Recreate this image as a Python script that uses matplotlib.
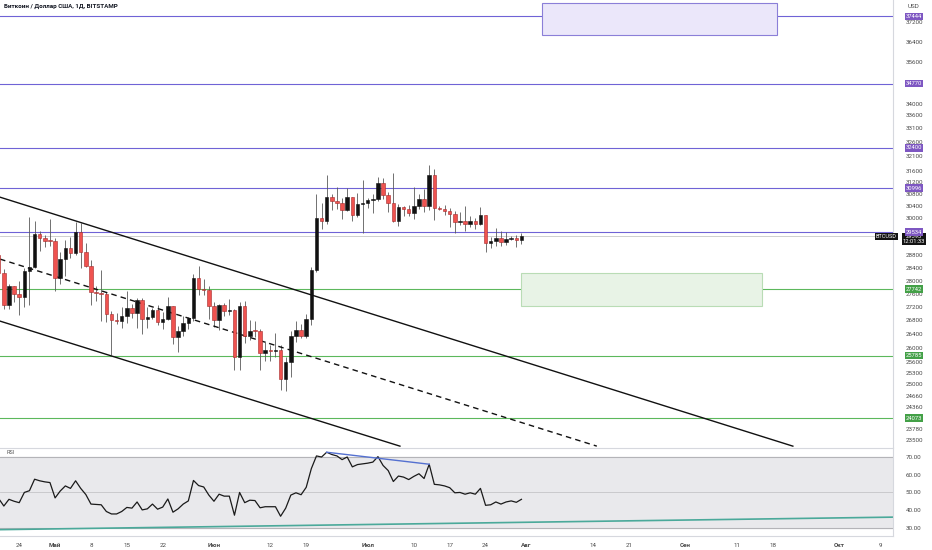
import numpy as np
import pandas as pd
import matplotlib
matplotlib.use("Agg")
import matplotlib.pyplot as plt
import matplotlib.dates as mdates
from matplotlib.ticker import NullLocator, NullFormatter

plt.rcParams['font.family'] = ['Roboto', 'DejaVu Sans']

# --- daily candles BTCUSD (Bitstamp), 20 Apr .. 31 Jul 2023 ---
dates = pd.date_range("2023-04-20", "2023-07-31", freq="D")

opens = [28800, 28240, 27270, 27820, 27590, 27510, 28300, 28420, 29470, 29330, 29240,
         29230, 28070, 28680, 29030, 28850, 29530, 28900, 28450, 27660, 27620,
         27600, 26980, 26800, 26780, 26920, 27170, 27030, 27400, 26830, 26890,
         27120, 26750, 26850, 27230, 26330, 26480, 26720, 26870, 28080, 27750, 27700,
         27220, 26820, 27250, 27070, 27120, 25740, 27240, 26350, 26500, 26480,
         25850, 25930, 25900, 25930, 25130, 25590, 26340, 26510, 26340, 26850,
         28330, 30000, 29890, 30690, 30550, 30480, 30270, 30690, 30080, 30450,
         30480, 30590, 30620, 31160, 30770, 30510, 29900, 30350, 30280, 30170,
         30410, 30620, 30380, 31450, 30320, 30290, 30230, 30140, 29860, 29910,
         29800, 29910, 29800, 30080, 29180, 29230, 29350, 29210, 29320, 29350, 29280]

highs = [29080, 28360, 27880, 27820, 28000, 28390, 30020, 29880, 29570, 29450, 29960,
         29330, 28880, 29270, 29370, 29860, 29840, 29170, 28650, 27830, 28330,
         27650, 27080, 27030, 27190, 27670, 27280, 27480, 27480, 27190, 27160,
         27270, 27050, 27490, 27240, 26630, 26930, 26890, 28190, 28450, 28040, 27840,
         27350, 27300, 27330, 27450, 27130, 27360, 27380, 26810, 26790, 26540,
         26200, 26090, 26430, 26080, 25750, 26480, 26780, 26690, 26980, 28420,
         30800, 30500, 31430, 30800, 31050, 30660, 31010, 30710, 30830, 31280,
         30660, 30790, 31390, 31330, 30880, 31500, 30450, 30380, 30440, 31040,
         30800, 30980, 31800, 31640, 30390, 30440, 30330, 30240, 30190, 30410,
         30050, 30010, 30350, 30100, 29380, 29680, 29560, 29530, 29420, 29450, 29500]

lows = [28020, 27130, 27130, 27350, 26960, 27210, 27250, 28380, 28920, 29060, 29090,
        27680, 27880, 28130, 28690, 28810, 28390, 28420, 27270, 27370, 26770,
        26750, 25810, 26700, 26590, 26730, 26870, 26580, 26400, 26570, 26830,
        26660, 26550, 26810, 26100, 25880, 26340, 26560, 26780, 27560, 27560, 26840,
        26620, 26520, 26930, 26960, 25390, 25380, 26130, 26220, 26330, 25380,
        25640, 25640, 25730, 24830, 24790, 25180, 26160, 26300, 26280, 26670,
        28280, 29620, 29810, 30270, 30290, 29950, 30230, 29900, 30040, 29500,
        30330, 30170, 30560, 30640, 30200, 29850, 29720, 30050, 30070, 29950,
        30280, 30210, 30260, 29940, 30250, 30080, 29690, 29520, 29780, 29570,
        29710, 29640, 29750, 28880, 29030, 29090, 29080, 29120, 29270, 29040, 29150]

closes = [28240, 27270, 27820, 27590, 27510, 28300, 28420, 29470, 29330, 29240, 29230,
          28070, 28680, 29030, 28850, 29530, 28900, 28450, 27660, 27620, 27600,
          26980, 26800, 26780, 26920, 27170, 27030, 27400, 26830, 26890, 27120,
          26750, 26850, 27230, 26330, 26480, 26720, 26870, 28080, 27750, 27700, 27220,
          26820, 27250, 27070, 27120, 25740, 27240, 26350, 26500, 26480, 25850,
          25930, 25900, 25930, 25130, 25590, 26340, 26510, 26340, 26850, 28330,
          30000, 29890, 30690, 30550, 30480, 30270, 30690, 30080, 30450, 30480,
          30590, 30620, 31160, 30770, 30510, 29900, 30350, 30280, 30170, 30410,
          30620, 30380, 31450, 30320, 30290, 30230, 30140, 29860, 29910, 29800,
          29910, 29800, 30080, 29180, 29230, 29350, 29210, 29320, 29350, 29280, 29393]

rsi = [46.4, 42.2, 46.0, 44.9, 44.1, 49.9, 50.9, 57.4, 56.5, 55.9, 55.5,
       46.8, 50.7, 53.6, 52.2, 56.5, 52.2, 48.7, 43.3, 43.1, 42.9,
       39.1, 37.7, 37.7, 39.1, 41.4, 41.0, 44.5, 40.0, 40.6, 43.3,
       40.4, 41.6, 46.2, 38.7, 40.6, 43.3, 45.1, 56.7, 53.8, 53.0, 48.4,
       44.9, 48.9, 47.8, 47.8, 37.0, 49.9, 44.1, 45.5, 45.3, 41.2,
       41.8, 41.8, 41.8, 36.4, 41.0, 48.4, 49.7, 48.6, 52.8, 63.4,
       70.6, 70.0, 72.7, 71.4, 70.6, 68.5, 70.0, 64.4, 65.7, 66.1,
       66.5, 67.1, 70.2, 65.2, 62.3, 56.1, 59.2, 58.6, 57.2, 59.0,
       60.5, 57.8, 65.9, 54.5, 54.2, 53.6, 52.6, 49.7, 49.9, 48.9,
       49.7, 48.9, 52.2, 42.6, 42.9, 44.5, 43.3, 44.5, 45.1, 44.3, 46.0]

# horizontal levels drawn on the chart
purple_levels = [37444, 34770, 32400, 30996, 29534]
green_levels = [27742, 25785, 24073]
last_price = 29393
last_time = "12:01:33"

# rectangles: (start, end, low, high)
purple_zone = ("2023-08-04 00:00", "2023-09-18 19:00", 36680, 37990)
green_zone = ("2023-07-30 22:00", "2023-09-15 22:00", 27230, 28240)

# descending channel: (start, end, price start, price end)
channel_top = ("2023-04-20 06:00", "2023-09-21 23:00", 30690, 23340)
channel_mid = ("2023-04-20 06:00", "2023-08-14 17:00", 28670, 23340)
channel_bot = ("2023-04-20 06:00", "2023-07-07 07:00", 26780, 23340)

# rsi trendlines
rsi_div = ("2023-06-23", "2023-07-13", 72.7, 65.9)
rsi_support = ("2023-04-20 06:00", "2023-10-11 12:00", 28.8, 35.9)

price_ticks = [37200, 36400, 35600, 34000, 33600, 33100, 32600, 32100, 31600, 31200,
               30800, 30400, 30000, 28800, 28400, 28000, 27600, 27200, 26800, 26400,
               26000, 25600, 25300, 25000, 24660, 24360, 23780, 23500]
rsi_ticks = [70, 60, 50, 40, 30]

date_ticks = ["2023-04-24", "2023-05-01", "2023-05-08", "2023-05-15", "2023-05-22",
              "2023-06-01", "2023-06-12", "2023-06-19", "2023-07-01", "2023-07-10",
              "2023-07-17", "2023-07-24", "2023-08-01", "2023-08-14", "2023-08-21",
              "2023-09-01", "2023-09-11", "2023-09-18", "2023-10-01", "2023-10-09"]
date_labels = ["24", "Май", "8", "15", "22", "Июн", "12", "19", "Июл", "10",
               "17", "24", "Авг", "14", "21", "Сен", "11", "18", "Окт", "9"]

PURPLE = "#7e57c2"
PURPLE_LINE = "#6f63d6"
GREEN = "#43a047"
GREEN_LINE = "#5cb85c"
SEP = "#d6d8de"

W, H = 932, 550
fig = plt.figure(figsize=(W / 100, H / 100), dpi=100)
ax = fig.add_axes([0, 1 - 447 / H, 893 / W, 447 / H])
ax_rsi = fig.add_axes([0, 1 - 536 / H, 893 / W, 88 / H])

def dn(s):
    return mdates.date2num(pd.Timestamp(s))

x = mdates.date2num(dates)
o = np.array(opens, float)
h = np.array(highs, float)
l = np.array(lows, float)
c = np.array(closes, float)
up = c >= o

# --- candles ---
ax.vlines(x, l, h, color="#5a5a5a", lw=0.6, zorder=2)
body_lo = np.minimum(o, c)
body_h = np.maximum(np.abs(c - o), body_lo * 0.0012)
ax.bar(x[up], body_h[up], bottom=body_lo[up], width=0.68, color="#111111",
       edgecolor="#111111", linewidth=0.4, zorder=3)
ax.bar(x[~up], body_h[~up], bottom=body_lo[~up], width=0.68, color="#ef5350",
       edgecolor="#a52a2a", linewidth=0.4, zorder=3)

# --- levels ---
for lv in purple_levels:
    ax.axhline(lv, color=PURPLE_LINE, lw=0.8, zorder=1)
for lv in green_levels:
    ax.axhline(lv, color=GREEN_LINE, lw=0.8, zorder=1)
ax.axhline(last_price, color="#c8c8c8", lw=0.6, zorder=1)

# --- zones ---
for (s, e, lo, hi), fc, ec in [(purple_zone, "#ebe7fa", "#8b7fd8"),
                               (green_zone, "#e8f3e6", "#b9dcb5")]:
    ax.add_patch(plt.Rectangle((dn(s), lo), dn(e) - dn(s), hi - lo,
                               facecolor=fc, edgecolor=ec, lw=0.8, zorder=1))

# --- channel ---
for (s, e, p0, p1), ls in [(channel_top, "-"), (channel_mid, (0, (4, 3))), (channel_bot, "-")]:
    ax.plot([dn(s), dn(e)], [p0, p1], color="#111111", lw=1.0, ls=ls, zorder=2)

xmin, xmax = dn("2023-04-20 06:00"), dn("2023-10-11 12:00")
ax.set_xlim(xmin, xmax)
ax.set_yscale("log")
ax.set_ylim(23318, 38120)
ax.yaxis.tick_right()
ax.set_yticks(price_ticks)
ax.set_yticklabels([str(t) for t in price_ticks])
ax.yaxis.set_minor_locator(NullLocator())
ax.yaxis.set_minor_formatter(NullFormatter())
ax.tick_params(axis="y", length=0, labelsize=4.5, labelcolor="#4a4a4a", pad=9)
ax.tick_params(axis="x", length=0, labelbottom=False)
for sp in ["top", "left", "bottom"]:
    ax.spines[sp].set_visible(False)
ax.spines["right"].set_color(SEP)
ax.spines["right"].set_linewidth(0.8)

def tag(axis, y, text, fc, xf=1.0235, fs=4.2):
    axis.annotate(text, xy=(xf, y), xycoords=("axes fraction", "data"), ha="center",
                  va="center", fontsize=fs, color="white", annotation_clip=False,
                  bbox=dict(boxstyle="square,pad=0.2", fc=fc, ec="none"), zorder=6)

for lv in purple_levels:
    tag(ax, lv, str(lv), PURPLE)
for lv in green_levels:
    tag(ax, lv, str(lv), GREEN)
ax.annotate(f"{last_price}\n{last_time}", xy=(1.0235, last_price),
            xycoords=("axes fraction", "data"), xytext=(0, 1.6), textcoords="offset points",
            ha="center", va="top", fontsize=4.2, color="white", linespacing=0.95,
            annotation_clip=False, zorder=5,
            bbox=dict(boxstyle="square,pad=0.2", fc="#131313", ec="none"))
tag(ax, last_price, "BTCUSD", "#131313", xf=0.9927, fs=4.0)

fig.text(4 / W, 1 - 6 / H, "Биткоин / Доллар США, 1Д, BITSTAMP", fontsize=4.5,
         fontweight="bold", color="#131722", va="center", ha="left")
fig.text(914 / W, 1 - 6 / H, "USD", fontsize=4.5, color="#4a4a4a", va="center", ha="center")

# --- RSI ---
ax_rsi.axhspan(30, 70, color="#e9e9ec", zorder=0)
ax_rsi.axhline(70, color="#b4b4b8", lw=0.8, zorder=1)
ax_rsi.axhline(30, color="#b4b4b8", lw=0.8, zorder=1)
ax_rsi.axhline(50, color="#c4c4c8", lw=0.6, zorder=1)
ax_rsi.plot(x, rsi, color="#1a1a1a", lw=0.9, zorder=3)
s, e, r0, r1 = rsi_div
ax_rsi.plot([dn(s), dn(e)], [r0, r1], color="#5470d0", lw=1.0, zorder=4)
s, e, r0, r1 = rsi_support
ax_rsi.plot([dn(s), dn(e)], [r0, r1], color="#4aa99a", lw=1.2, zorder=2)
ax_rsi.text(0.007, 0.945, "RSI", transform=ax_rsi.transAxes, fontsize=4.0,
            color="#555555", va="center")

ax_rsi.set_xlim(xmin, xmax)
ax_rsi.set_ylim(25.2, 75.1)
ax_rsi.yaxis.tick_right()
ax_rsi.set_yticks(rsi_ticks)
ax_rsi.set_yticklabels([f"{t:.2f}" for t in rsi_ticks])
ax_rsi.tick_params(axis="y", length=0, labelsize=4.5, labelcolor="#4a4a4a", pad=9)
ax_rsi.set_xticks([dn(d) for d in date_ticks])
ax_rsi.set_xticklabels(date_labels)
ax_rsi.tick_params(axis="x", length=0, labelsize=4.5, labelcolor="#4a4a4a", pad=5)
for lab, txt in zip(ax_rsi.get_xticklabels(), date_labels):
    if not txt.isdigit():
        lab.set_fontweight("bold")
ax_rsi.spines["left"].set_visible(False)
for sp in ["top", "bottom", "right"]:
    ax_rsi.spines[sp].set_color(SEP)
    ax_rsi.spines[sp].set_linewidth(0.8)

fig.savefig("out.png", dpi=100, facecolor="white")
